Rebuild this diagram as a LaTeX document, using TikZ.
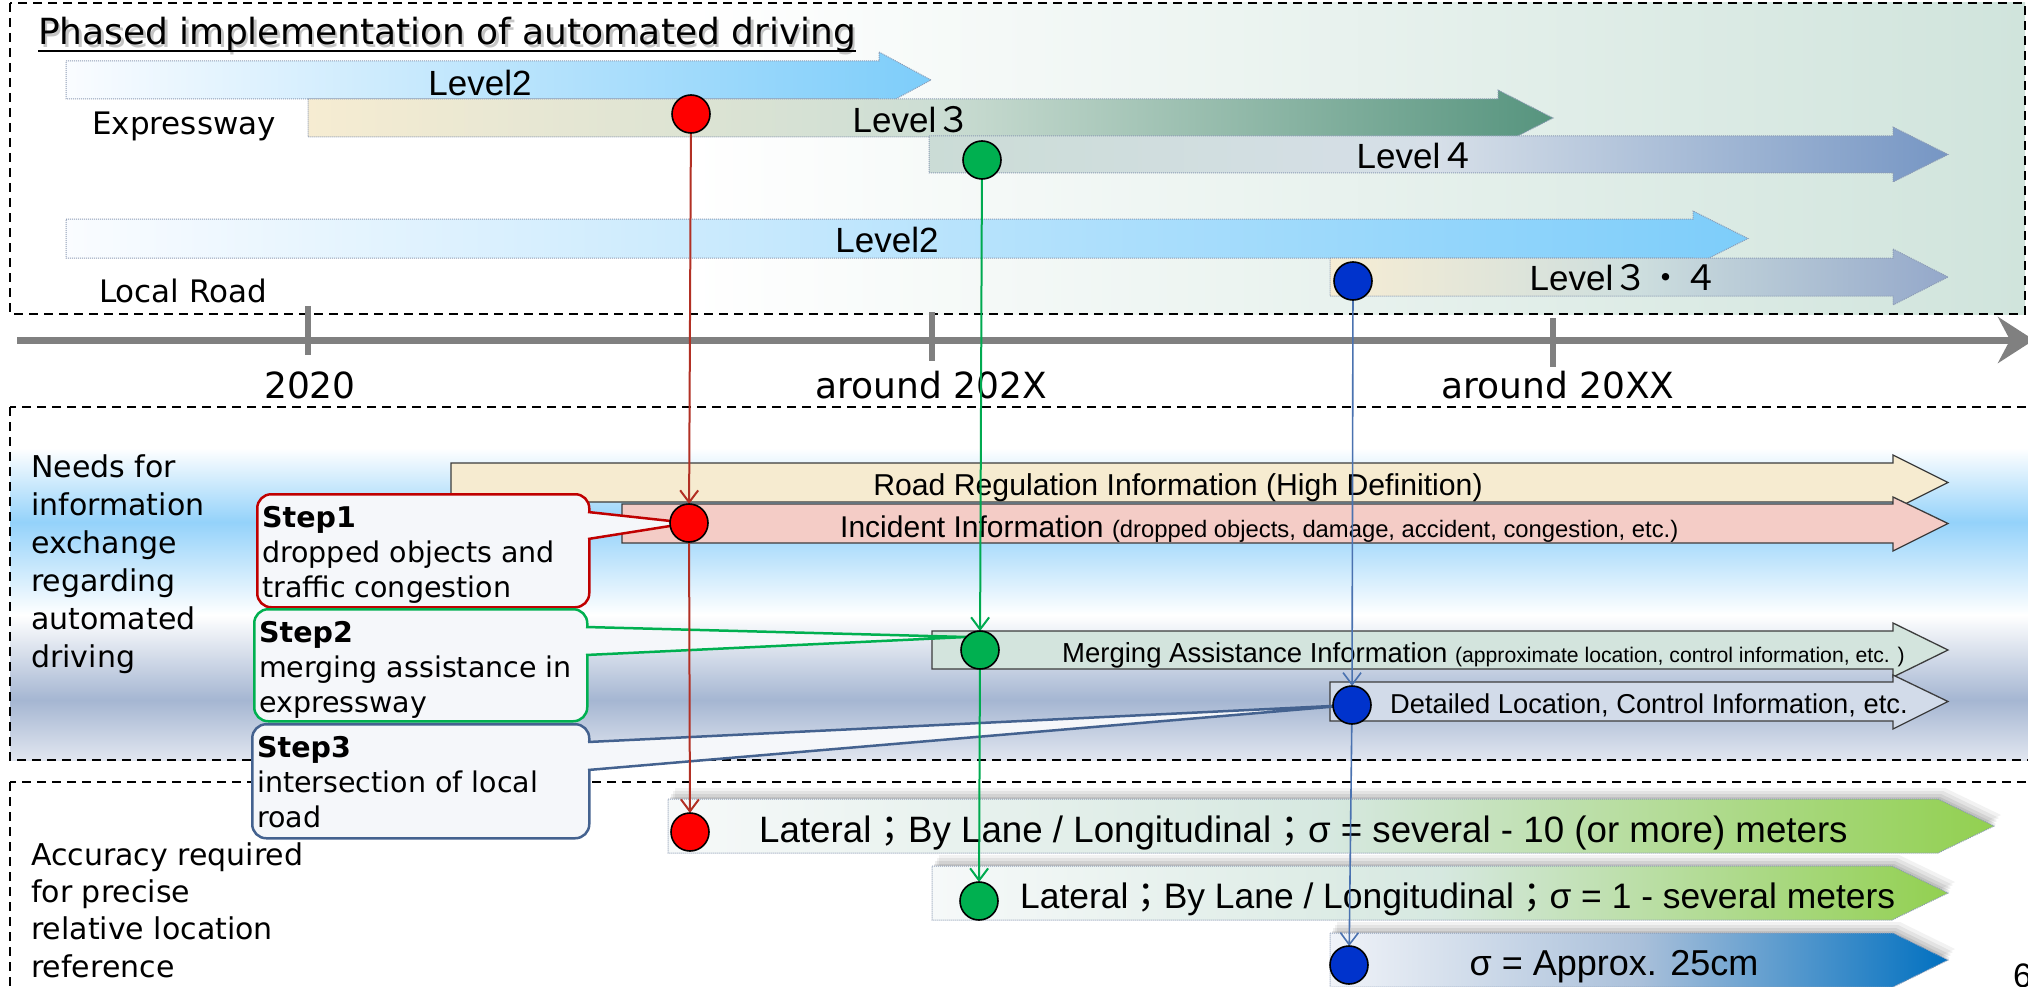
\documentclass[tikz,border=0pt]{standalone}
\usepackage{fontspec}
\setmainfont{DejaVu Sans}
\newfontfamily\lvlfont{Liberation Sans}
\newfontfamily\jpfont{Noto Sans CJK JP}
\usetikzlibrary{arrows.meta}
\newcommand{\ml}[1]{\begin{tabular}[t]{@{}l@{}}#1\end{tabular}}
\definecolor{axisgray}{RGB}{128,128,128}
\definecolor{topbg}{RGB}{208,228,220}
\definecolor{lvltwol}{RGB}{250,252,255}
\definecolor{lvltwor}{RGB}{125,205,250}
\definecolor{lvlthreel}{RGB}{246,236,210}
\definecolor{lvlthreem}{RGB}{205,222,212}
\definecolor{lvlthreer}{RGB}{86,148,126}
\definecolor{lvlfourl}{RGB}{203,220,214}
\definecolor{lvlfourm}{RGB}{214,223,232}
\definecolor{lvlfourr}{RGB}{118,150,196}
\definecolor{lvlttl}{RGB}{247,237,212}
\definecolor{lvlttm}{RGB}{205,222,222}
\definecolor{lvlttr}{RGB}{148,168,202}
\definecolor{lvlborder}{RGB}{140,155,180}
\definecolor{bgblue}{RGB}{148,210,250}
\definecolor{bggray}{RGB}{165,182,210}
\definecolor{bglow}{RGB}{225,230,240}
\definecolor{roadcol}{RGB}{246,235,208}
\definecolor{incidentcol}{RGB}{244,204,198}
\definecolor{mergingcol}{RGB}{211,228,221}
\definecolor{detailedcol}{RGB}{210,219,233}
\definecolor{arrowborder}{RGB}{60,60,60}
\definecolor{bargreen}{RGB}{146,208,80}
\definecolor{barmid}{RGB}{214,232,224}
\definecolor{barleft}{RGB}{246,249,249}
\definecolor{barblue}{RGB}{0,112,192}
\definecolor{barbluemid}{RGB}{170,192,218}
\definecolor{barblueleft}{RGB}{240,243,248}
\definecolor{stepone}{RGB}{192,0,0}
\definecolor{steptwo}{RGB}{0,176,80}
\definecolor{stepthree}{RGB}{68,98,143}
\definecolor{callfill}{RGB}{245,247,250}
\definecolor{redline}{RGB}{178,48,36}
\definecolor{greenline}{RGB}{0,170,80}
\definecolor{blueline}{RGB}{74,114,176}
\definecolor{dotred}{RGB}{255,0,0}
\definecolor{dotgreen}{RGB}{0,176,80}
\definecolor{dotblue}{RGB}{0,51,204}
\newcommand{\barOne}[1]{\path[#1] (668,799) -- (1938,799) -- (1994,826) -- (1938,853) -- (668,853) -- cycle;}
\newcommand{\barTwo}[1]{\path[#1] (932,866) -- (1892,866) -- (1948,893) -- (1892,920) -- (932,920) -- cycle;}
\newcommand{\barThree}[1]{\path[#1] (1330,933) -- (1893,933) -- (1948,960) -- (1893,987) -- (1330,987) -- cycle;}
\newcommand{\barShadow}[1]{%
  #1{fill=black, opacity=0.05, shift={(7,-11)}}
  #1{fill=black, opacity=0.06, shift={(5,-8)}}
  #1{fill=black, opacity=0.07, shift={(3,-5)}}
  #1{fill=black, opacity=0.08, shift={(2,-2)}}}
\begin{document}
\begin{tikzpicture}[x=1pt,y=-1pt,
  boxdash/.style={draw=black, line width=2pt, dash pattern=on 9pt off 6pt},
  lvlarrow/.style={draw=lvlborder, line width=1pt, densely dotted},
  lvltext/.style={font=\lvlfont\fontsize{35}{40}\selectfont, inner sep=0pt},
  infoarrow/.style={draw=arrowborder, line width=1.3pt},
  infotext/.style={font=\lvlfont\fontsize{30.2}{34}\selectfont, inner sep=0pt, anchor=base west},
  bartext/.style={font=\lvlfont\fontsize{36}{40}\selectfont, inner sep=0pt},
  maintext/.style={font=\fontsize{30}{38}\selectfont, inner sep=0pt, anchor=base west},
  yeartext/.style={font=\fontsize{36}{40}\selectfont, inner sep=0pt, anchor=base},
  callbox/.style={rectangle, rounded corners=14pt, fill=callfill, line width=2.5pt, inner sep=0pt, anchor=north west},
  steptext/.style={font=\fontsize{28.5}{35}\selectfont, inner sep=0pt, anchor=base west},
  dot/.style={circle, draw=black, line width=1.6pt, minimum size=38pt, inner sep=0pt},
  vline/.style={line width=2pt, shorten <=19pt, shorten >=19pt, -{Straight Barb[length=12pt,width=18pt]}},
  tick/.style={axisgray, line width=6pt}
]
\useasboundingbox (0,0) rectangle (2028,987);
\fill[white] (0,0) rectangle (2028,987);

% ---------- top section ----------
\shade[left color=white, right color=topbg] (690,3) rectangle (2025,314);
\draw[boxdash] (10,3) rectangle (2025,314);

\node[anchor=base west, inner sep=0pt, font=\fontsize{36}{40}\selectfont, text=black!45, opacity=0.5] at (40.5,47.5) {Phased implementation of automated driving};
\node[anchor=base west, inner sep=0pt, font=\fontsize{36}{40}\selectfont] (title) at (38,45) {Phased implementation of automated driving};
\draw[line width=2.4pt] ([yshift=-6pt]title.base west) -- ([yshift=-6pt]title.base east);

\path[lvlarrow, left color=lvltwol, right color=lvltwor]
  (66,61) -- (879,61) -- (879,52) -- (931,80) -- (879,108) -- (879,99) -- (66,99) -- cycle;
\path[lvlarrow, left color=lvlthreel, right color=lvlthreer, middle color=lvlthreem]
  (308,99) -- (1498,99) -- (1498,90) -- (1553,118) -- (1498,146) -- (1498,137) -- (308,137) -- cycle;
\path[lvlarrow, left color=lvlfourl, right color=lvlfourr, middle color=lvlfourm]
  (929,136) -- (1893,136) -- (1893,127) -- (1948,154.5) -- (1893,182) -- (1893,173) -- (929,173) -- cycle;
\path[lvlarrow, left color=lvltwol, right color=lvltwor]
  (66,219) -- (1693,219) -- (1693,211) -- (1748,238.5) -- (1693,266) -- (1693,258) -- (66,258) -- cycle;
\path[lvlarrow, left color=lvlttl, right color=lvlttr, middle color=lvlttm]
  (1330,258) -- (1893,258) -- (1893,249) -- (1948,277) -- (1893,305) -- (1893,296) -- (1330,296) -- cycle;

\node[lvltext] (lv2e) at (480,83) {Level2};
\node[lvltext] (lv3e) at (912,120) {Level{\jpfont ３}};
\node[lvltext] (lv4e) at (1416,156) {Level{\jpfont ４}};
\node[lvltext] (lv2l) at (887,240) {Level2};
\node[lvltext] (lv34l) at (1624,278) {Level{\jpfont ３・４}};

\node[maintext, font=\fontsize{31}{38}\selectfont] (expr) at (92,135) {Expressway};
\node[maintext, font=\fontsize{31}{38}\selectfont] (local) at (99,302) {Local Road};

% ---------- axis ----------
\coordinate (ax0) at (17,340);
\coordinate (ax1) at (2034,340);
\draw[axisgray, line width=7pt, -{Stealth[length=36pt,width=46pt,inset=12pt]}] (ax0) -- (ax1);
\draw[tick] (308,306) -- (308,355);
\draw[tick] (932,312) -- (932,361);
\draw[tick] (1553,318) -- (1553,367);
\node[yeartext] (y1) at (310,398) {2020};
\node[yeartext] (y2) at (931,398) {around 202X};
\node[yeartext] (y3) at (1558,398) {around 20XX};

% ---------- middle section ----------
\shade[top color=white, bottom color=bgblue] (10,448) rectangle (2045,522);
\shade[top color=bgblue, bottom color=white] (10,522) rectangle (2045,615);
\shade[top color=white, bottom color=bggray] (10,615) rectangle (2045,700);
\shade[top color=bggray, bottom color=bglow] (10,700) rectangle (2045,760);
\draw[boxdash] (10,407) rectangle (2045,760);

\node[maintext] (needs) at (31,477) {\ml{Needs for\\information\\exchange\\regarding\\automated\\driving}};

\path[infoarrow, fill=roadcol]
  (451,463) -- (1893,463) -- (1893,455) -- (1948,482.5) -- (1893,510) -- (1893,502) -- (451,502) -- cycle;
\path[infoarrow, fill=incidentcol]
  (622,504) -- (1893,504) -- (1893,497) -- (1948,523.5) -- (1893,551) -- (1893,543) -- (622,543) -- cycle;
\path[infoarrow, fill=mergingcol]
  (932,631) -- (1893,631) -- (1893,623) -- (1948,650) -- (1893,677) -- (1893,669) -- (932,669) -- cycle;
\path[infoarrow, fill=detailedcol]
  (1330,682) -- (1893,682) -- (1893,675) -- (1948,701.5) -- (1893,729) -- (1893,721) -- (1330,721) -- cycle;

\node[infotext, anchor=base] (road) at (1178,495) {Road Regulation Information (High Definition)};
\node[infotext, font=\lvlfont\fontsize{30}{34}\selectfont] (inc) at (840,537) {Incident Information {\fontsize{23.8}{26}\selectfont (dropped objects, damage, accident, congestion, etc.)}};
\node[infotext, font=\lvlfont\fontsize{27.5}{34}\selectfont] (merg) at (1062,662) {Merging Assistance Information {\fontsize{21.2}{24}\selectfont (approximate location, control information, etc. )}};
\node[infotext, font=\lvlfont\fontsize{27.3}{34}\selectfont] (det) at (1390,713) {Detailed Location, Control Information, etc.};

% ---------- bottom section ----------
\draw[boxdash] (10,782) rectangle (2045,1000);
\node[maintext, font=\fontsize{30}{37.4}\selectfont] (acc) at (31,865) {\ml{Accuracy required\\for precise\\relative location\\reference}};

\barShadow{\barOne}
\barOne{lvlarrow, left color=barleft, right color=bargreen, middle color=barmid}
\barShadow{\barTwo}
\barTwo{lvlarrow, left color=barleft, right color=bargreen, middle color=barmid}
\barShadow{\barThree}
\barThree{lvlarrow, left color=barblueleft, right color=barblue, middle color=barbluemid}

\node[bartext, anchor=base west, font=\lvlfont\fontsize{36.7}{40}\selectfont] (acc1) at (759,842) {Lateral{\jpfont ；}By Lane / Longitudinal{\jpfont ；}σ = several - 10 (or more) meters};
\node[bartext, anchor=base west, font=\lvlfont\fontsize{35.4}{40}\selectfont] (acc2) at (1020,908) {Lateral{\jpfont ；}By Lane / Longitudinal{\jpfont ；}σ = 1 - several meters};
\node[bartext, anchor=base] (acc3) at (1614,975) {σ = Approx. 25cm};
\node[anchor=base west, inner sep=0pt, font=\lvlfont\fontsize{34}{40}\selectfont] (pg) at (2013,987) {6};

% ---------- milestone coordinates ----------
\coordinate (r1) at (691,114);
\coordinate (r2) at (689,523);
\coordinate (r3) at (690,832);
\coordinate (g1) at (982,160);
\coordinate (g2) at (980,650);
\coordinate (g3) at (979,901);
\coordinate (b1) at (1353,281);
\coordinate (b2) at (1352,705);
\coordinate (b3) at (1349,965);
\coordinate (t2) at (966,637);

% ---------- callouts ----------
\node[callbox, draw=stepone, minimum width=332pt, minimum height=113pt] (s1) at (256,493) {};
\fill[callfill] (584,512) -- (588,512) -- (r2) -- (588,539) -- (584,539) -- cycle;
\draw[stepone, line width=2.5pt] (588,512) -- (r2) -- (588,539);
\node[steptext] (s1t) at (262,527) {\ml{\textbf{Step1}\\dropped objects and\\traffic congestion}};

\node[callbox, draw=steptwo, minimum width=333pt, minimum height=112pt] (s2) at (253,608) {};
\fill[callfill] (582,627) -- (586,627) -- (t2) -- (586,655) -- (582,655) -- cycle;
\draw[steptwo, line width=2.5pt] (586,627) -- (t2) -- (586,655);
\node[steptext] (s2t) at (259,642) {\ml{\textbf{Step2}\\merging assistance in\\expressway}};

\node[callbox, draw=stepthree, minimum width=337pt, minimum height=114pt] (s3) at (251,723) {};
\fill[callfill] (584,742) -- (588,742) -- (b2) -- (588,770) -- (584,770) -- cycle;
\draw[stepthree, line width=2.5pt] (588,742) -- (b2) -- (588,770);
\node[steptext] (s3t) at (257,757) {\ml{\textbf{Step3}\\intersection of local\\road}};

% ---------- vertical milestone lines ----------
\draw[vline, redline] (r1) -- (r2);
\draw[vline, redline] (r2) -- (r3);
\draw[vline, greenline] (g1) -- (g2);
\draw[vline, greenline] (g2) -- (g3);
\draw[vline, blueline, line width=1.6pt] (b1) -- (b2);
\draw[vline, blueline, line width=1.6pt] (b2) -- (b3);

\node[dot, fill=dotred] (R1) at (r1) {};
\node[dot, fill=dotred] (R2) at (r2) {};
\node[dot, fill=dotred] (R3) at (r3) {};
\node[dot, fill=dotgreen] (G1) at (g1) {};
\node[dot, fill=dotgreen] (G2) at (g2) {};
\node[dot, fill=dotgreen] (G3) at (g3) {};
\node[dot, fill=dotblue] (B1) at (b1) {};
\node[dot, fill=dotblue] (B2) at (b2) {};
\node[dot, fill=dotblue] (B3) at (b3) {};
\end{tikzpicture}
\end{document}
